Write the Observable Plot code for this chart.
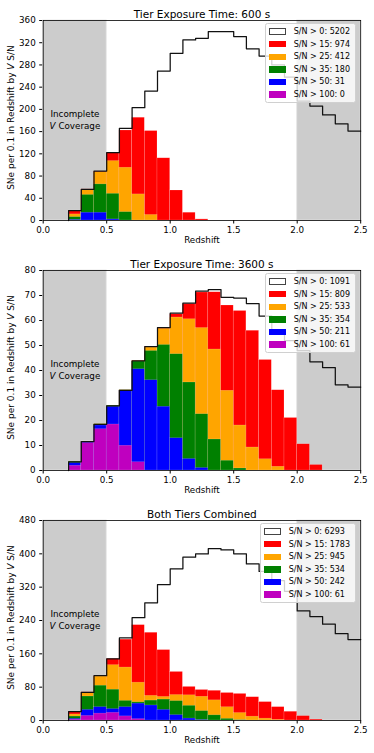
<!DOCTYPE html>
<html><head><meta charset="utf-8">
<script src="https://cdn.jsdelivr.net/npm/d3@7"></script>
<script src="https://cdn.jsdelivr.net/npm/@observablehq/plot@0.6"></script>
<style>
body{margin:0;background:#fff;font-family:"DejaVu Sans",sans-serif;}
#wrap{width:374px;}
.panel{position:relative;width:374px;height:250px;}
.panel svg{display:block;}
.legend{position:absolute;right:18px;top:23.3px;background:rgba(255,255,255,0.8);border:1px solid #d0d0d0;border-radius:2.5px;padding:1px 5px 1px 3px;font-size:8px;color:#000;}
.row{display:flex;align-items:center;height:12.6px;white-space:nowrap;}
.sw{width:17px;height:6.5px;margin-right:7.5px;box-sizing:border-box;flex:none;}
</style></head><body><div id="wrap"></div>
<script>
// Bin edges in redshift (0.2 ... 2.5, width 0.1)
const binEdges = [0.2,0.3,0.4,0.5,0.6,0.7,0.8,0.9,1.0,1.1,1.2,1.3,1.4,1.5,1.6,1.7,1.8,1.9,2.0,2.1,2.2,2.3,2.4,2.5];
const xTicks = [0,0.5,1.0,1.5,2.0,2.5];
const gapStarts = [0, 2.0];
const gapEnds = [0.5, 2.5];

const seriesLabels = ["S/N > 0","S/N > 15","S/N > 25","S/N > 35","S/N > 50","S/N > 100"];
const seriesColors = ["#ffffff","#ff0000","#ffa500","#008000","#0000ff","#bf00bf"];

// Panel 1: 600 s tier
const t600_all  = [18,56,89,122,166,203,233,269,301,325,328,340,340,331,309,296,280,258,215,206,190,174,161];
const t600_s15  = [18,56,88,122,162,185,161,112,54,14,2,0,0,0,0,0,0,0,0,0,0,0,0];
const t600_s25  = [11,55,87,107,95,47,10,0,0,0,0,0,0,0,0,0,0,0,0,0,0,0,0];
const t600_s35  = [6,46,65,48,15,0,0,0,0,0,0,0,0,0,0,0,0,0,0,0,0,0,0];
const t600_s50  = [1,14,14,2,0,0,0,0,0,0,0,0,0,0,0,0,0,0,0,0,0,0,0];
const t600_s100 = [0,0,0,0,0,0,0,0,0,0,0,0,0,0,0,0,0,0,0,0,0,0,0];
const t600_totals = [5202,974,412,180,31,0];
const t600_yTicks = [0,40,80,120,160,200,240,280,320,360];

// Panel 2: 3600 s tier
const t3600_all  = [3.5,11.6,18.5,25.9,32.1,43.9,49.6,57.2,63,67,71.8,72.4,69.3,69,66.8,61.8,56,52,48,43.5,41.2,34.3,33.4];
const t3600_s15  = [3.5,11.6,18.5,25.9,32.1,43.9,49.6,57,62.5,66.6,71.2,71.3,66,63.8,55.9,44.2,32.1,21,10.5,2.2,0,0,0];
const t3600_s25  = [3.5,11.6,18.5,25.9,32.1,43.8,49.2,56.7,61.2,60.5,57,48.4,31.9,18,9.2,4.5,1.5,0,0,0,0,0,0];
const t3600_s35  = [3.5,11.6,18.5,25.9,32.1,43.6,47.8,50.2,46.5,35.2,22.5,12.4,3.9,0.8,0,0,0,0,0,0,0,0,0];
const t3600_s50  = [3,11.5,18,25.5,32,40.5,36.1,25.5,12.9,4.6,1,0,0,0,0,0,0,0,0,0,0,0,0];
const t3600_s100 = [1.9,11,16.5,18.4,9.9,3.3,0,0,0,0,0,0,0,0,0,0,0,0,0,0,0,0,0];
const t3600_totals = [1091,809,533,354,211,61];
const t3600_yTicks = [0,10,20,30,40,50,60,70,80];

// Panel 3: both tiers combined
const both_all  = [21.5,67.6,107.5,147.9,198.1,246.9,282.6,326.2,364,392,399.8,412.4,409.3,400,375.8,357.8,336,310,263,249.5,231.2,208.3,194.4];
const both_s15  = [21.5,67.6,106.5,147.9,194.1,228.9,210.6,169,116.5,80.6,73.2,71.3,66,63.8,55.9,44.2,32.1,21,10.5,2.2,0,0,0];
const both_s25  = [14.5,66.6,105.5,132.9,127.1,90.8,59.2,56.7,61.2,60.5,57,48.4,31.9,18,9.2,4.5,1.5,0,0,0,0,0,0];
const both_s35  = [9.5,57.6,83.5,73.9,47.1,43.6,47.8,50.2,46.5,35.2,22.5,12.4,3.9,0.8,0,0,0,0,0,0,0,0,0];
const both_s50  = [4,25.5,32,27.5,32,40.5,36.1,25.5,12.9,4.6,1,0,0,0,0,0,0,0,0,0,0,0,0];
const both_s100 = [1.9,11,16.5,18.4,9.9,3.3,0,0,0,0,0,0,0,0,0,0,0,0,0,0,0,0,0];
const both_totals = [6293,1783,945,534,242,61];
const both_yTicks = [0,80,160,240,320,400,480];

const yLabel = "SNe per 0.1 in Redshift by V S/N";
const coverageText = "Incomplete\nV Coverage";

function binRows(vals){
  return vals.map((v,i)=>({x1:binEdges[i], x2:binEdges[i+1], y:v})).filter(d=>d.y>0);
}
function stepRows(vals){
  const pts = [{x:binEdges[0], y:0}];
  vals.forEach((v,i)=>pts.push({x:binEdges[i], y:v}));
  pts.push({x:binEdges[binEdges.length-1], y:vals[vals.length-1]});
  return pts;
}

function italicizeV(svg){
  d3.select(svg).selectAll("text, tspan").each(function(){
    if (this.childElementCount) return;
    const t = this.textContent;
    let before, after;
    if (t === "V Coverage") { before = ""; after = " Coverage"; }
    else if (t === yLabel) { before = "SNe per 0.1 in Redshift by "; after = " S/N"; }
    else return;
    const ns = "http://www.w3.org/2000/svg";
    this.textContent = "";
    if (before) this.appendChild(document.createTextNode(before));
    const it = document.createElementNS(ns, "tspan");
    it.setAttribute("font-style", "italic");
    it.textContent = "V";
    this.appendChild(it);
    this.appendChild(document.createTextNode(after));
  });
}

function makePanel(title, yMax, yTicks, series, totals){
  const gaps = gapStarts.map((s,i)=>({x1:s, x2:gapEnds[i]}));
  const marks = [
    Plot.rect(gaps, {x1:"x1", x2:"x2", fill:"#cccccc", stroke:"#e4e4e4", strokeWidth:0.8}),
  ];
  for (let k = 1; k < series.length; k++) {
    marks.push(Plot.rectY(binRows(series[k]), {x1:"x1", x2:"x2", y:"y", fill:seriesColors[k], stroke:"#ffffff", strokeOpacity:0.3, strokeWidth:0.5}));
  }
  marks.push(Plot.line(stepRows(series[0]), {x:"x", y:"y", curve:"step-after", stroke:"#111", strokeWidth:1.25}));
  marks.push(Plot.text([coverageText], {x:()=>(gapStarts[0]+gapEnds[0])/2, frameAnchor:"middle", text:d=>d, fontSize:8.75, lineHeight:1.37, dy:-1, fill:"#000"}));
  marks.push(Plot.frame({stroke:"#000", strokeWidth:0.8}));
  marks.push(Plot.text([title], {frameAnchor:"top", text:d=>d, dy:-10, fontSize:10.5, fill:"#000"}));
  marks.push(Plot.text(["Redshift"], {frameAnchor:"bottom", text:d=>d, dy:22, fontSize:8.75, fill:"#000"}));
  marks.push(Plot.text([yLabel], {frameAnchor:"left", textAnchor:"middle", text:d=>d, rotate:-90, dx:-32, dy:-3, fontSize:9, fill:"#000"}));
  const svg = Plot.plot({
    width:374, height:250,
    marginLeft:42.7, marginRight:13.8, marginTop:20, marginBottom:30,
    style:{fontFamily:"DejaVu Sans", fontSize:"8.75px", color:"#000", background:"#fff", overflow:"visible"},
    x:{domain:[0,2.5], ticks:xTicks, tickFormat:d3.format(".1f"), tickSize:3.5, tickPadding:2.5, label:null},
    y:{domain:[0,yMax], ticks:yTicks, tickSize:3.5, tickPadding:4, label:null},
    marks
  });
  italicizeV(svg);
  const div = document.createElement("div");
  div.className = "panel";
  div.appendChild(svg);
  const leg = document.createElement("div");
  leg.className = "legend";
  for (let k = 0; k < seriesLabels.length; k++) {
    const row = document.createElement("div");
    row.className = "row";
    const sw = document.createElement("div");
    sw.className = "sw";
    sw.style.background = seriesColors[k];
    if (k === 0) sw.style.border = "1.2px solid #444";
    const tx = document.createElement("span");
    tx.textContent = seriesLabels[k] + ": " + totals[k];
    row.appendChild(sw); row.appendChild(tx);
    leg.appendChild(row);
  }
  div.appendChild(leg);
  document.getElementById("wrap").appendChild(div);
}

makePanel("Tier Exposure Time: 600 s", 360, t600_yTicks,
  [t600_all,t600_s15,t600_s25,t600_s35,t600_s50,t600_s100], t600_totals);
makePanel("Tier Exposure Time: 3600 s", 80, t3600_yTicks,
  [t3600_all,t3600_s15,t3600_s25,t3600_s35,t3600_s50,t3600_s100], t3600_totals);
makePanel("Both Tiers Combined", 480, both_yTicks,
  [both_all,both_s15,both_s25,both_s35,both_s50,both_s100], both_totals);
</script></body></html>
